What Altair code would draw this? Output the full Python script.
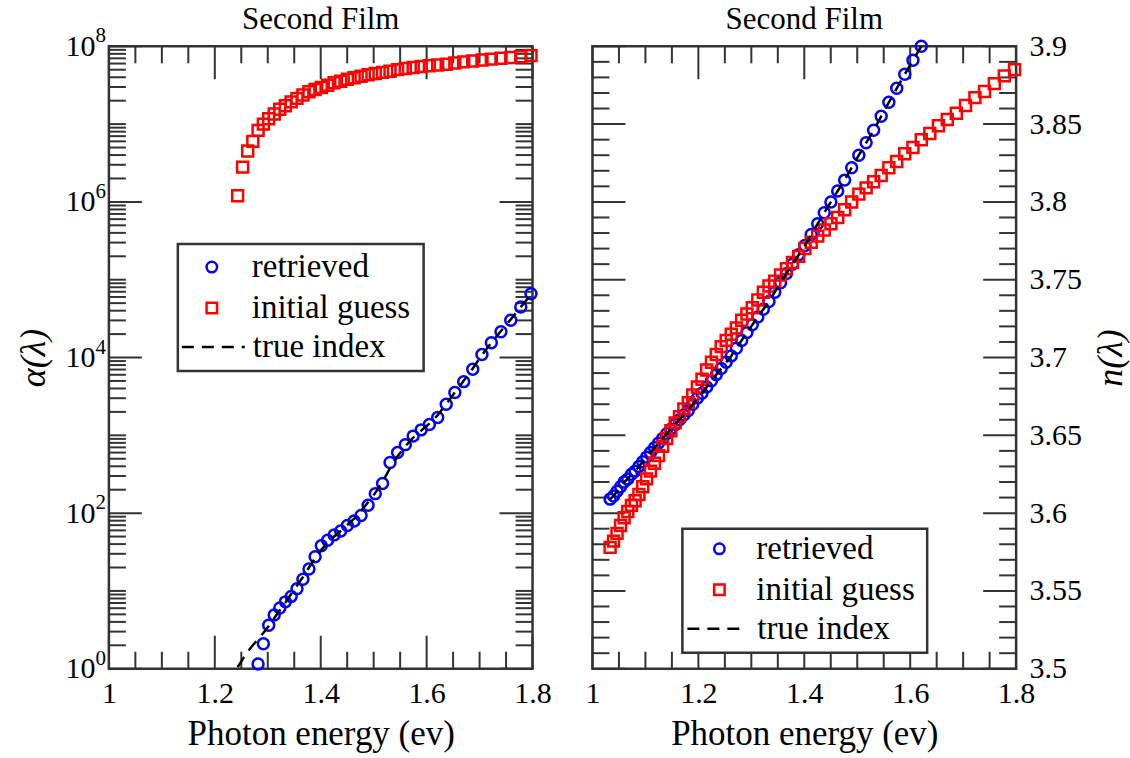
import altair as alt
import pandas as pd

# ---------------- data ----------------
energy = [1.0333, 1.0398, 1.0464, 1.0531, 1.0598, 1.0667, 1.0736, 1.0806, 1.0877, 1.0949,
          1.1022, 1.1096, 1.1171, 1.1247, 1.1324, 1.1402, 1.1481, 1.1562, 1.1643, 1.1726,
          1.1810, 1.1894, 1.1981, 1.2068, 1.2157, 1.2247, 1.2338, 1.2431, 1.2525, 1.2621,
          1.2718, 1.2817, 1.2917, 1.3018, 1.3122, 1.3227, 1.3333, 1.3442, 1.3552, 1.3664,
          1.3778, 1.3894, 1.4011, 1.4131, 1.4253, 1.4377, 1.4503, 1.4631, 1.4762, 1.4895,
          1.5030, 1.5168, 1.5309, 1.5452, 1.5597, 1.5746, 1.5897, 1.6052, 1.6209, 1.6370,
          1.6533, 1.6700, 1.6871, 1.7045, 1.7222, 1.7404, 1.7589, 1.7778, 1.7971]

# left panel: absorption alpha (log scale) -- series end at the last energy
alpha_initial = [1.2e6, 2.8e6, 4.5e6, 6.0e6, 8.3e6, 1.0e7, 1.17e7, 1.35e7, 1.55e7, 1.72e7,
                 1.93e7, 2.14e7, 2.37e7, 2.6e7, 2.79e7, 2.95e7, 3.16e7, 3.39e7, 3.55e7, 3.76e7,
                 3.94e7, 4.12e7, 4.32e7, 4.47e7, 4.62e7, 4.79e7, 5.01e7, 5.19e7, 5.35e7, 5.5e7,
                 5.62e7, 5.75e7, 5.89e7, 6.1e7, 6.31e7, 6.46e7, 6.68e7, 6.84e7, 7.0e7, 7.16e7,
                 7.33e7, 7.59e7]
alpha_retrieved = [1.15, 2.09, 3.63, 4.9, 6.03, 7.24, 8.51, 10.7, 14.1, 19.1,
                   27.5, 38.0, 44.7, 52.5, 58.9, 69.2, 79.4, 93.3, 126, 178,
                   240, 447, 603, 759, 977, 1175, 1380, 1698, 2512, 3548,
                   4898, 7079, 10965, 15488, 21380, 30200, 44668, 66069]
alpha_true = [1.05, 1.32, 1.66, 2.0, 2.4, 2.88, 3.55, 4.47, 5.62, 7.08,
              9.12, 11.7, 15.1, 20.0, 26.3, 33.9, 41.7, 50.1, 58.9, 70.8,
              85.1, 107, 138, 182, 251, 380, 537, 724, 933, 1148,
              1413, 1820, 2512, 3548, 5012, 7244, 10715, 15488, 21878, 30903,
              44668, 64565]

# right panel: refractive index n -- series start at the first energy
n_retrieved = [3.609, 3.611, 3.614, 3.617, 3.620, 3.622, 3.625, 3.627, 3.630, 3.633,
               3.636, 3.639, 3.642, 3.645, 3.648, 3.651, 3.654, 3.657, 3.660, 3.663,
               3.666, 3.670, 3.674, 3.677, 3.681, 3.685, 3.689, 3.693, 3.697, 3.701,
               3.706, 3.711, 3.716, 3.721, 3.726, 3.731, 3.736, 3.742, 3.748, 3.754,
               3.760, 3.766, 3.772, 3.779, 3.786, 3.793, 3.800, 3.807, 3.814, 3.822,
               3.830, 3.838, 3.846, 3.855, 3.864, 3.873, 3.882, 3.891, 3.900]
n_initial = [3.578, 3.582, 3.587, 3.592, 3.597, 3.601, 3.605, 3.608, 3.612, 3.617,
             3.622, 3.627, 3.632, 3.637, 3.643, 3.648, 3.653, 3.658, 3.662, 3.667,
             3.671, 3.676, 3.681, 3.686, 3.692, 3.697, 3.702, 3.707, 3.711, 3.715,
             3.719, 3.724, 3.728, 3.732, 3.737, 3.742, 3.746, 3.749, 3.753, 3.757,
             3.761, 3.765, 3.770, 3.774, 3.778, 3.782, 3.786, 3.790, 3.795, 3.800,
             3.805, 3.809, 3.813, 3.817, 3.822, 3.826, 3.831, 3.835, 3.840, 3.844,
             3.849, 3.853, 3.857, 3.862, 3.867, 3.871, 3.876, 3.881, 3.885]
n_true = [3.609, 3.611, 3.614, 3.617, 3.620, 3.622, 3.625, 3.627, 3.630, 3.633,
          3.636, 3.639, 3.642, 3.645, 3.648, 3.651, 3.654, 3.657, 3.660, 3.663,
          3.666, 3.670, 3.674, 3.677, 3.681, 3.685, 3.689, 3.693, 3.697, 3.701,
          3.706, 3.711, 3.716, 3.721, 3.726, 3.731, 3.736, 3.742, 3.748, 3.754,
          3.760, 3.766, 3.772, 3.779, 3.786, 3.793, 3.800, 3.807, 3.814, 3.822,
          3.830, 3.838, 3.846, 3.855, 3.864, 3.873, 3.882, 3.891, 3.900]

legend_labels = ["retrieved", "initial guess", "true index"]
panel_title = "Second Film"
x_title = "Photon energy (ev)"

# tick positions / labels
x_major = [1.0, 1.2, 1.4, 1.6, 1.8]
x_minor = [1.05, 1.1, 1.15, 1.25, 1.3, 1.35, 1.45, 1.5, 1.55, 1.65, 1.7, 1.75]
a_major = [1, 1e2, 1e4, 1e6, 1e8]
a_exponents = ["0", "2", "4", "6", "8"]
a_minor = [m * 10 ** k for k in range(8) for m in range(2, 11) if not (m == 10 and k % 2 == 1)]
n_major = [3.5, 3.55, 3.6, 3.65, 3.7, 3.75, 3.8, 3.85, 3.9]
n_minor = [round(3.5 + 0.01 * i, 2) for i in range(41) if i % 5 != 0]

# ---------------- styling ----------------
W, H = 424, 623
FONT = "Liberation Serif"
FRAME = "#333333"
BLUE = "#0000FF"
RED = "#FF0000"
DASH = [12, 8]
MAJ, MIN = 33, 17

xscale = alt.Scale(domain=[1, 1.8], nice=False, zero=False)
ascale = alt.Scale(type="log", domain=[1, 1e8], nice=False)
nscale = alt.Scale(domain=[3.5, 3.9], nice=False, zero=False)

xaxis = alt.Axis(values=x_major, format=".1~f", title=x_title, ticks=False, domain=False,
                 grid=False, labelPadding=10, titlePadding=8, labelFontSize=30,
                 titleFontSize=35, labelFlush=False, labelFont=FONT, titleFont=FONT,
                 labelColor="black", titleColor="black", titleFontWeight="normal")
aaxis = alt.Axis(values=a_major, labelExpr="'10'", title="α(λ)", ticks=False, domain=False,
                 grid=False, labelPadding=14, titlePadding=12, labelFontSize=30,
                 titleFontSize=36, titleFontStyle="italic", labelFlush=False,
                 labelFont=FONT, titleFont=FONT, labelColor="black", titleColor="black",
                 titleFontWeight="normal")
naxis = alt.Axis(values=n_major, format=".2~f", title="n(λ)", orient="right", ticks=False,
                 domain=False, grid=False, labelPadding=13, titlePadding=12, labelFontSize=30,
                 titleFontSize=36, titleFontStyle="italic", titleAngle=270,
                 titleBaseline="top", labelFlush=False,
                 labelFont=FONT, titleFont=FONT, labelColor="black", titleColor="black",
                 titleFontWeight="normal")


def X():
    return alt.X("E:Q", scale=xscale, axis=xaxis)


def tick_layers(yfield, yscale, yaxis, y_major, y_minor):
    layers = []
    xm = pd.DataFrame({"E": x_major})
    xn = pd.DataFrame({"E": x_minor})
    for df, L in ((xm, MAJ), (xn, MIN)):
        layers.append(alt.Chart(df).mark_rule(color=FRAME, strokeWidth=2).encode(
            x=X(), y=alt.value(H), y2=alt.value(H - L)))
        layers.append(alt.Chart(df).mark_rule(color=FRAME, strokeWidth=2).encode(
            x=X(), y=alt.value(0), y2=alt.value(L)))
    ym = pd.DataFrame({yfield: y_major})
    yn = pd.DataFrame({yfield: y_minor})
    for df, L in ((ym, MAJ), (yn, MIN)):
        Y = alt.Y(f"{yfield}:Q", scale=yscale, axis=yaxis)
        layers.append(alt.Chart(df).mark_rule(color=FRAME, strokeWidth=2).encode(
            y=Y, x=alt.value(0), x2=alt.value(L)))
        layers.append(alt.Chart(df).mark_rule(color=FRAME, strokeWidth=2).encode(
            y=Y, x=alt.value(W), x2=alt.value(W - L)))
    return layers


def legend_layers(bx, by, bw, bh, sx, tx, rows, lx1, lx2):
    one = alt.Data(values=[{"k": 1}])
    layers = [alt.Chart(one).mark_rect(fill="white", stroke=FRAME, strokeWidth=2.5).encode(
        x=alt.value(bx), x2=alt.value(bx + bw), y=alt.value(by), y2=alt.value(by + bh))]
    layers.append(alt.Chart(one).mark_point(shape="circle", filled=False, size=110,
                                            strokeWidth=2.5, color=BLUE, opacity=1).encode(
        x=alt.value(sx), y=alt.value(rows[0])))
    layers.append(alt.Chart(one).mark_point(shape="square", filled=False, size=110,
                                            strokeWidth=2.5, color=RED, opacity=1).encode(
        x=alt.value(sx), y=alt.value(rows[1])))
    layers.append(alt.Chart(one).mark_rule(color="black", strokeWidth=2.5, strokeDash=DASH).encode(
        x=alt.value(lx1), x2=alt.value(lx2), y=alt.value(rows[2])))
    for i, lab in enumerate(legend_labels):
        layers.append(alt.Chart(one).mark_text(text=lab, align="left", baseline="middle",
                                               font=FONT, fontSize=33, color="black").encode(
            x=alt.value(tx if i < 2 else tx + 1), y=alt.value(rows[i])))
    return layers


def title_layer():
    one = alt.Data(values=[{"k": 1}])
    return alt.Chart(one).mark_text(text=panel_title, align="center", baseline="alphabetic",
                                    font=FONT, fontSize=31, color="black").encode(
        x=alt.value(W / 2), y=alt.value(-17))


# ---------------- left panel ----------------
aY = alt.Y("A:Q", scale=ascale, axis=aaxis)
df_ai = pd.DataFrame({"E": energy[-len(alpha_initial):], "A": alpha_initial})
df_ar = pd.DataFrame({"E": energy[-len(alpha_retrieved):], "A": alpha_retrieved})
df_at = pd.DataFrame({"E": energy[-len(alpha_true):], "A": alpha_true})
df_exp = pd.DataFrame({"A": a_major, "lab": a_exponents})

left_layers = tick_layers("A", ascale, aaxis, a_major, a_minor)
left_layers += [
    alt.Chart(df_ar).mark_point(shape="circle", filled=False, size=120, strokeWidth=2.5,
                                color=BLUE, opacity=1).encode(x=X(), y=aY),
    alt.Chart(df_ai).mark_point(shape="square", filled=False, size=120, strokeWidth=2.5,
                                color=RED, opacity=1).encode(x=X(), y=aY),
    alt.Chart(df_at).mark_line(color="black", strokeWidth=2.5, strokeDash=DASH,
                               clip=True).encode(x=X(), y=aY),
    alt.Chart(df_exp).mark_text(align="right", baseline="middle", dy=-10, font=FONT,
                                fontSize=21, color="black").encode(
        y=aY, x=alt.value(-3), text="lab:N"),
    title_layer(),
]
left_layers += legend_layers(69, 198, 246, 127, 103, 143, [221, 262, 301], 73, 136)
left = alt.layer(*left_layers).properties(width=W, height=H)

# ---------------- right panel ----------------
nY = alt.Y("N:Q", scale=nscale, axis=naxis)
df_nr = pd.DataFrame({"E": energy[:len(n_retrieved)], "N": n_retrieved})
df_ni = pd.DataFrame({"E": energy[:len(n_initial)], "N": n_initial})
df_nt = pd.DataFrame({"E": energy[:len(n_true)], "N": n_true})

right_layers = tick_layers("N", nscale, naxis, n_major, n_minor)
right_layers += [
    alt.Chart(df_nr).mark_point(shape="circle", filled=False, size=120, strokeWidth=2.5,
                                color=BLUE, opacity=1).encode(x=X(), y=nY),
    alt.Chart(df_ni).mark_point(shape="square", filled=False, size=120, strokeWidth=2.5,
                                color=RED, opacity=1).encode(x=X(), y=nY),
    alt.Chart(df_nt).mark_line(color="black", strokeWidth=2.5, strokeDash=DASH,
                               clip=True).encode(x=X(), y=nY),
    title_layer(),
]
right_layers += legend_layers(90, 483, 245, 124, 127, 164, [503, 544, 583], 95, 155)
right = alt.layer(*right_layers).properties(width=W, height=H)

chart = alt.hconcat(left, right, spacing=60, bounds="flush").properties(
    padding={"left": 14, "top": 2, "right": 0, "bottom": 0},
    background="white",
).configure_view(stroke=FRAME, strokeWidth=2.5)

chart.save("out.html", embed_options={"renderer": "svg", "actions": False})
